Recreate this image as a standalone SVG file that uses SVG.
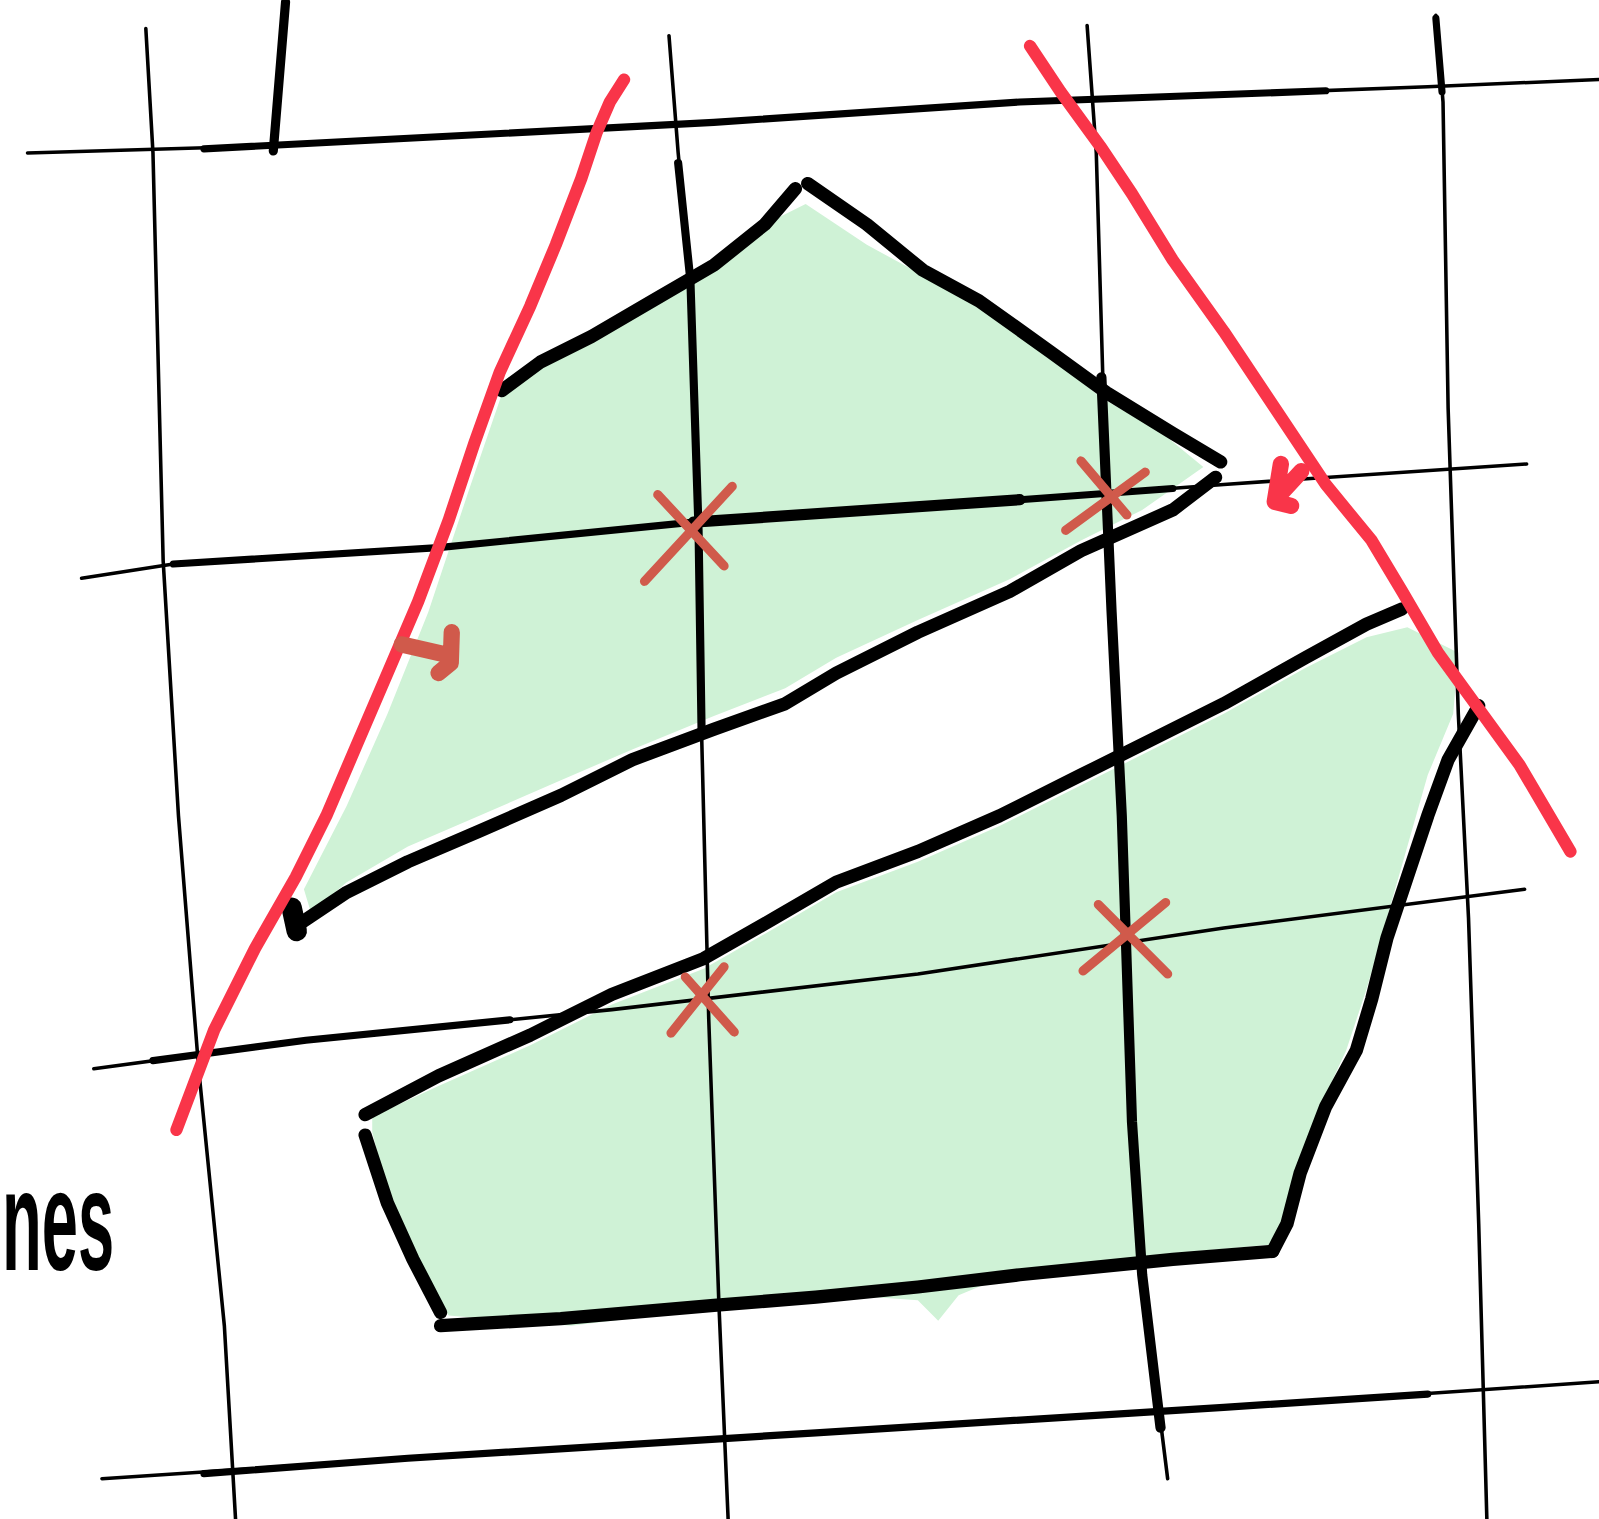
<svg xmlns="http://www.w3.org/2000/svg" width="1599" height="1519" viewBox="0 0 1599 1519">
<style>
.grid{fill:none;stroke:#000;stroke-width:3.5;stroke-linecap:round;stroke-linejoin:round}
.gridk{fill:none;stroke:#000;stroke-width:7;stroke-linecap:round;stroke-linejoin:round}
.out{fill:none;stroke:#000;stroke-width:13;stroke-linecap:round;stroke-linejoin:round}
.red{fill:none;stroke:#f93549;stroke-width:12;stroke-linecap:round;stroke-linejoin:round}
.mark{fill:none;stroke:#d05a4b;stroke-width:9;stroke-linecap:round;stroke-linejoin:round}
.fill{fill:#cff2d6;stroke:none}
.hand{font-family:"Liberation Sans",Arial,sans-serif;font-weight:bold;fill:#000}
</style>
<rect width="1599" height="1519" fill="#fff"/>
<g transform="scale(1.0198)">
<g id="fills">
<path class="fill" d="M495,378 L540,355 L600,320 L650,295 L700,255 L760,215 L790,200 L850,240 L905,270 L960,300 L1030,350 L1080,390 L1140,425 L1180,458 L1120,500 L1060,530 L990,568 L900,608 L820,645 L770,675 L700,702 L620,735 L550,765 L470,800 L400,830 L340,865 L305,895 L298,872 L340,790 L380,700 L420,600 L460,480 Z"/>
<path class="fill" d="M365,1095 L430,1065 L520,1025 L600,985 L690,950 L760,910 L820,875 L900,845 L980,810 L1060,770 L1130,735 L1200,700 L1280,655 L1340,625 L1380,615 L1430,640 L1425,700 L1400,760 L1380,830 L1360,900 L1340,970 L1320,1030 L1290,1095 L1270,1160 L1250,1220 L1140,1230 L1000,1245 L940,1270 L920,1295 L900,1275 L800,1268 L700,1283 L560,1300 L440,1290 L410,1240 L380,1170 L365,1110 Z"/>
</g>
<g id="grid">
<path class="grid" d="M143,28 L150,150 L160,550 L175,800 L195,1050 L220,1300 L231,1490"/>
<path class="grid" d="M656,35 L665,150 L677,275 L685,520 L688,720 L695,1000 L705,1280 L714,1490"/>
<path class="gridk" d="M665,160 L677,275 L685,520 L688,720" style="stroke-width:8"/>
<path class="grid" d="M1066,25 L1075,150 L1082,390 L1090,600 L1100,800 L1110,1100 L1120,1250 L1145,1450"/>
<path class="gridk" d="M1080,370 L1090,600 L1100,800 L1110,1100 L1120,1250 L1138,1400" style="stroke-width:10"/>
<path class="grid" d="M1408,15 L1415,100 L1420,400 L1430,700 L1440,900 L1450,1200 L1458,1490"/>
<path class="gridk" d="M1408,18 L1414,90"/>
<path class="grid" d="M27,150 L265,143 L700,120 L1000,100 L1400,85 L1568,78"/>
<path class="gridk" d="M200,146 L700,120 L1000,100 L1300,89"/>
<path class="grid" d="M80,567 L170,553 L430,537 L680,512 L1000,490 L1200,475 L1497,455"/>
<path class="gridk" d="M170,553 L430,537 L680,512 L1000,490 L1150,479"/>
<path class="gridk" d="M680,512 L1000,490" style="stroke-width:11"/>
<path class="grid" d="M92,1048 L300,1020 L600,990 L900,955 L1200,910 L1495,872"/>
<path class="gridk" d="M150,1040 L300,1020 L500,1000"/>
<path class="grid" d="M100,1450 L400,1430 L800,1405 L1200,1380 L1568,1355"/>
<path class="gridk" d="M200,1445 L400,1430 L800,1405 L1200,1380 L1400,1367"/>
<path class="gridk" d="M280,2 L268,148" style="stroke-width:9"/>
</g>
<g id="outlines">
<path class="out" d="M492,383 L530,355 L580,330 L640,295 L700,260 L750,220 L780,185"/>
<path class="out" d="M792,180 L850,220 L905,265 L960,295 L1030,345 L1085,385 L1150,425 L1197,453"/>
<path class="out" d="M1192,468 L1150,500 L1060,540 L990,580 L900,620 L820,660 L770,690 L700,715 L620,745 L550,780 L470,815 L400,845 L340,875 L295,905"/>
<path class="out" d="M286,890 L291,913" style="stroke-width:20"/>
<path class="out" d="M358,1093 L430,1055 L520,1015 L600,975 L690,940 L760,900 L820,865 L900,835 L980,800 L1060,760 L1130,725 L1200,690 L1280,645 L1340,612 L1375,597"/>
<path class="out" d="M1450,692 L1420,745 L1400,800 L1380,860 L1360,920 L1345,980 L1330,1030 L1300,1085 L1275,1150 L1262,1200 L1248,1227"/>
<path class="out" d="M1248,1227 L1150,1235 L1000,1250 L900,1262 L800,1272 L700,1280 L550,1293 L432,1300"/>
<path class="out" d="M358,1113 L380,1180 L405,1235 L432,1287"/>
</g>
<g id="constraints">
<path class="red" d="M612,78 L598,100 L585,130 L570,175 L545,240 L520,300 L490,365 L465,435 L440,510 L410,590 L380,660 L350,730 L320,800 L290,860 L250,930 L210,1010 L173,1108"/>
<path class="red" d="M1010,45 L1040,90 L1080,145 L1110,190 L1150,255 L1200,325 L1250,400 L1300,475 L1345,530 L1375,580 L1410,640 L1450,695 L1490,750 L1540,835"/>
<path class="red" d="M1256,455 L1250,492 L1266,496 M1255,485 L1276,462" style="stroke-width:16"/>
<path class="mark" d="M394,632 L438,642 M443,620 L442,650 L430,660" style="stroke-width:16"/>
</g>
<g id="marks">
<path class="mark" d="M645,485 L710,555 M718,477 L632,570"/>
<path class="mark" d="M1060,452 L1105,505 M1123,463 L1045,520"/>
<path class="mark" d="M1077,887 L1145,955 M1143,885 L1062,952"/>
<path class="mark" d="M672,958 L720,1012 M710,948 L658,1013"/>
</g>
<text class="hand" x="2" y="1245" font-size="140" textLength="110" lengthAdjust="spacingAndGlyphs">nes</text>
</g>
</svg>
